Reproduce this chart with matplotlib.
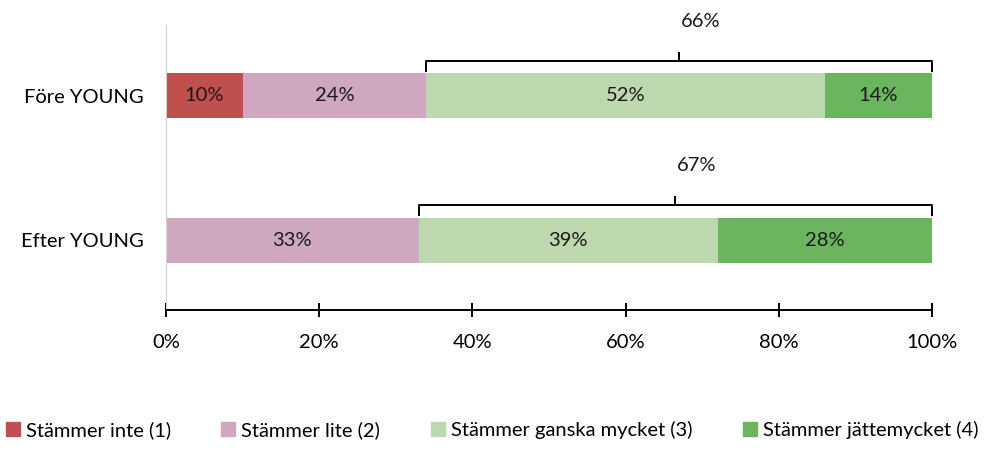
import numpy as np
import matplotlib.pyplot as plt
from matplotlib.patches import Patch

# Data
groups = ['Efter YOUNG', 'Före YOUNG']
categories = ['Stämmer inte (1)', 'Stämmer lite (2)',
              'Stämmer ganska mycket (3)', 'Stämmer jättemycket (4)']
values_fore = [10, 24, 52, 14]
values_efter = [0, 33, 39, 28]
brace_labels = ['67%', '66%']   # efter, före
colors = ['#C0504D', '#CFA8C0', '#BDD7AE', '#6BB55F']
xticks = [0, 20, 40, 60, 80, 100]

plt.rcParams['font.family'] = ['Lato', 'DejaVu Sans']
FS = 14.5

fig = plt.figure(figsize=(9.84, 4.55), dpi=100)
ax = fig.add_axes([166 / 984, 1 - 310 / 455, 766 / 984, 285 / 455])

data = np.array([values_efter, values_fore])
ypos = np.arange(len(groups))
bar_h = 0.3125
left = np.zeros(len(groups))
for j, cat in enumerate(categories):
    vals = data[:, j]
    ax.barh(ypos, vals, left=left, height=bar_h, color=colors[j],
            label=cat, edgecolor='none')
    for i, v in enumerate(vals):
        if v > 0:
            ax.text(left[i] + v / 2, ypos[i], f'{v}%', ha='center',
                    va='center', fontsize=FS, color='#1a1a1a')
    left = left + vals


def draw_brace(ax, x0, x1, y, label):
    # curly bracket above a bar, label on top
    mid = (x0 + x1) / 2
    h = 0.075
    kw = dict(color='black', lw=1.4, clip_on=False, solid_capstyle='butt')
    ax.plot([x0, x0, mid, mid], [y, y + h, y + h, y + h * 1.9], **kw)
    ax.plot([x1, x1, mid], [y, y + h, y + h], **kw)
    ax.text(mid + 2.8, y + 0.35, label, ha='center', va='center',
            fontsize=FS, color='#1a1a1a', clip_on=False)


for i in range(len(groups)):
    start = data[i, 0] + data[i, 1]
    end = data[i].sum()
    draw_brace(ax, start, end, ypos[i] + bar_h / 2 + 0.01, brace_labels[i])

ax.set_xlim(0, 100)
ax.set_ylim(-0.486, 1.493)
ax.set_yticks(ypos)
ax.set_yticklabels(groups, fontsize=FS)
ax.set_xticks(xticks)
ax.set_xticklabels([f'{t}%' for t in xticks], fontsize=FS)
ax.tick_params(axis='y', length=0, pad=16)
ax.tick_params(axis='x', direction='inout', length=10, width=1.4, pad=12)

for s in ['top', 'right']:
    ax.spines[s].set_visible(False)
ax.spines['left'].set_color('#d0d0d0')
ax.spines['bottom'].set_color('black')
ax.spines['bottom'].set_linewidth(1.4)

handles = [Patch(color=c, label=cat) for c, cat in zip(colors, categories)]
fig.legend(handles=handles, loc='lower center', ncol=4, frameon=False,
           bbox_to_anchor=(0.5, -0.005), fontsize=FS, handlelength=0.7,
           handleheight=0.7, handletextpad=0.3, columnspacing=2.5)

plt.savefig('out.png', dpi=100)
